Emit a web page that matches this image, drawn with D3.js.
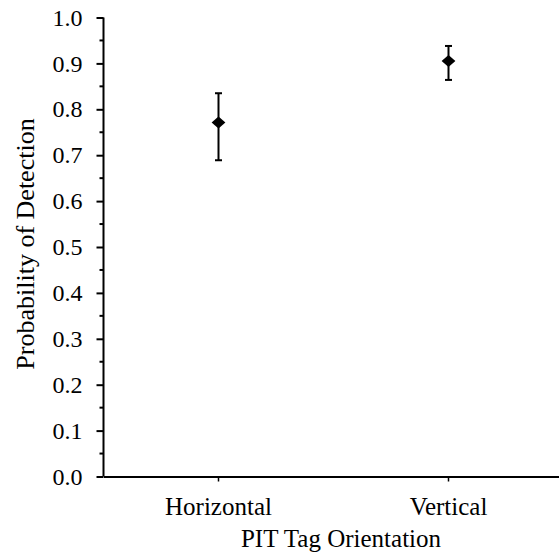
<!DOCTYPE html>
<html><head><meta charset="utf-8">
<script src="https://cdn.jsdelivr.net/npm/d3@7"></script>
<style>body{margin:0;background:#fff}svg{display:block}</style>
</head><body><svg id="c" width="559" height="554"></svg>
<script>
const categories = ["Horizontal", "Vertical"];
const means = [0.771, 0.905];
const lower = [0.689, 0.864];
const upper = [0.835, 0.938];
const yTicks = [0.0,0.1,0.2,0.3,0.4,0.5,0.6,0.7,0.8,0.9,1.0];
const minorTicks = [0.05,0.15,0.25,0.35,0.45,0.55,0.65,0.75,0.85,0.95];

const FF = "Liberation Serif";
const svg = d3.select("#c");
const x = d3.scaleBand().domain(categories).range([103.5, 563.5]);
const y = d3.scaleLinear().domain([0,1]).range([476.5, 17.5]);

const ya = svg.append("g").attr("transform","translate(103.5,0)")
  .call(d3.axisLeft(y).tickValues(yTicks).tickFormat(d3.format(".1f")).tickSize(7).tickPadding(14));
ya.attr("font-family",FF).attr("font-size",24);
ya.selectAll("text").attr("font-family",FF).attr("fill","#000");
ya.selectAll("path").attr("d","M0,"+y(1)+"V"+y(0)).attr("stroke","#000").attr("stroke-width",2);
ya.selectAll(".tick line").attr("stroke","#000").attr("stroke-width",2);
svg.append("g").attr("transform","translate(103.5,0)")
  .selectAll("line").data(minorTicks).join("line")
  .attr("x1",-4).attr("x2",0).attr("y1",d=>y(d)).attr("y2",d=>y(d))
  .attr("stroke","#000").attr("stroke-width",2);

const xa = svg.append("g").attr("transform","translate(0,476.5)")
  .call(d3.axisBottom(x).tickSize(5).tickPadding(16).tickSizeOuter(0));
xa.attr("font-family",FF).attr("font-size",25);
xa.selectAll("text").attr("font-family",FF).attr("fill","#000");
xa.selectAll("path").attr("stroke","#000").attr("stroke-width",2);
xa.selectAll(".tick line").attr("stroke","#000").attr("stroke-width",1.5);

const g = svg.append("g");
categories.forEach((c,i)=>{
  const cx = x(c)+x.bandwidth()/2;
  g.append("line").attr("x1",cx).attr("x2",cx).attr("y1",y(upper[i])).attr("y2",y(lower[i])).attr("stroke","#000").attr("stroke-width",2);
  [upper[i],lower[i]].forEach(v=>g.append("line").attr("x1",cx-3.5).attr("x2",cx+3.5).attr("y1",y(v)).attr("y2",y(v)).attr("stroke","#000").attr("stroke-width",2));
  g.append("path").attr("d",d3.symbol(d3.symbolSquare,72)()).attr("transform",`translate(${cx},${y(means[i])}) scale(1.15,1) rotate(45)`).attr("fill","#000");
});

svg.append("text").attr("x",341).attr("y",547).attr("text-anchor","middle").attr("font-family",FF).attr("font-size",25).attr("fill","#000").text("PIT Tag Orientation");
svg.append("text").attr("transform","translate(34,244) rotate(-90)").attr("text-anchor","middle").attr("font-family",FF).attr("font-size",26).attr("fill","#000").text("Probability of Detection");
</script></body></html>
